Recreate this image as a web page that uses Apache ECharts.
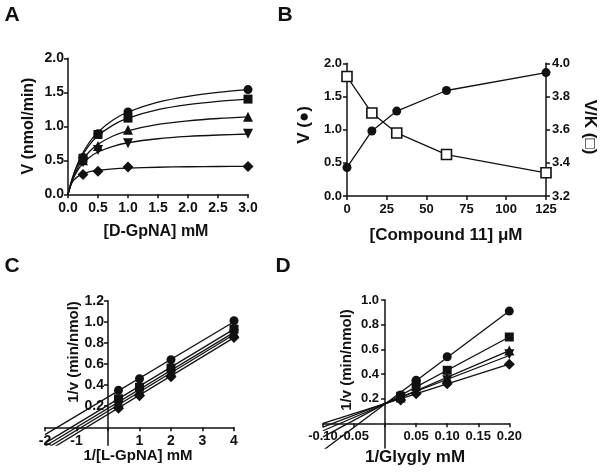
<!DOCTYPE html>
<html><head><meta charset="utf-8">
<script src="https://cdn.jsdelivr.net/npm/echarts@6/dist/echarts.min.js"></script>
<style>html,body{margin:0;padding:0;background:#fff}#c{width:601px;height:473px}</style>
</head><body><div id="c"></div>
<script>
const FONT = '"Liberation Sans", Arial, "DejaVu Sans", sans-serif';
const INK = '#111';

const aX = [0.25, 0.5, 1.0, 3.0];
const aCircle = [0.54, 0.89, 1.21, 1.54];
const aSquare = [0.53, 0.88, 1.12, 1.40];
const aTriUp = [0.50, 0.71, 0.95, 1.14];
const aTriDown = [0.47, 0.65, 0.75, 0.89];
const aDiamond = [0.29, 0.34, 0.40, 0.41];
const aCurveX = [0, 0.05, 0.1, 0.2, 0.35, 0.5, 0.75, 1, 1.5, 2, 2.5, 3];
const aCurveCircle = [0, 0.170, 0.311, 0.530, 0.758, 0.916, 1.093, 1.210, 1.355, 1.441, 1.499, 1.540];
const aCurveSquare = [0, 0.167, 0.303, 0.509, 0.719, 0.862, 1.018, 1.120, 1.244, 1.318, 1.366, 1.400];
const aCurveTriUp = [0, 0.152, 0.272, 0.449, 0.622, 0.736, 0.857, 0.934, 1.027, 1.080, 1.115, 1.139];
const aCurveTriDown = [0, 0.147, 0.255, 0.404, 0.539, 0.622, 0.706, 0.758, 0.817, 0.851, 0.872, 0.887];
const aCurveDiamond = [0, 0.142, 0.212, 0.283, 0.331, 0.354, 0.375, 0.386, 0.398, 0.405, 0.409, 0.411];

// ---- Panel B: V and V/K vs [Compound 11] ----
const bX = [0, 15.625, 31.25, 62.5, 125];
const bV = [0.43, 0.98, 1.28, 1.59, 1.86];
const bVK = [3.92, 3.70, 3.58, 3.45, 3.34];

// ---- Panel C: 1/v vs 1/[L-GpNA] ----
const cX = [0.333, 1, 2, 4];
const cCircle = [0.35, 0.46, 0.64, 1.01];
const cSquare = [0.27, 0.38, 0.56, 0.93];
const cTriUp = [0.24, 0.35, 0.53, 0.90];
const cTriDown = [0.21, 0.33, 0.50, 0.88];
const cDiamond = [0.18, 0.30, 0.48, 0.85];
const cFitX = [-2, 4];
const cFitCircle = [-0.07, 1.00];
const cFitSquare = [-0.15, 0.93];
const cFitTriUp = [-0.18, 0.90];
const cFitTriDown = [-0.21, 0.88];
const cFitDiamond = [-0.24, 0.85];
const cXTicks = [-2, -1, 0, 1, 2, 3, 4];
const cXLabels = [-2, -1, 1, 2, 3, 4];
const cYTicks = [0.2, 0.4, 0.6, 0.8, 1.0, 1.2];

// ---- Panel D: 1/v vs 1/Glygly ----
const dX = [0.025, 0.05, 0.1, 0.2];
const dCircle = [0.23, 0.35, 0.54, 0.91];
const dSquare = [0.22, 0.32, 0.43, 0.70];
const dTriUp = [0.21, 0.30, 0.37, 0.59];
const dTriDown = [0.20, 0.28, 0.35, 0.56];
const dDiamond = [0.19, 0.24, 0.32, 0.48];
const dFitX = [-0.1, 0.2];
const dFitCircle = [-0.22, 0.91];
const dFitSquare = [-0.11, 0.70];
const dFitTriUp = [-0.06, 0.59];
const dFitTriDown = [-0.03, 0.55];
const dFitDiamond = [0.00, 0.48];
const dXTicks = [-0.1, -0.05, 0, 0.05, 0.1, 0.15, 0.2];
const dXLabels = [-0.1, -0.05, 0.05, 0.1, 0.15, 0.2];
const dYTicks = [0.2, 0.4, 0.6, 0.8, 1.0];

const pts = (xs, ys) => xs.map((x, i) => [x, ys[i]]);

function axisBase(fs, fmt, margin) {
  return {
    axisLine: { onZero: false, lineStyle: { color: INK, width: 1.5 } },
    axisTick: { length: 4, lineStyle: { color: INK, width: 1.5 } },
    axisLabel: { color: INK, fontFamily: FONT, fontWeight: 'bold', fontSize: fs, formatter: fmt, margin: margin, showMinLabel: true, showMaxLabel: true },
    splitLine: { show: false }
  };
}
function scat(xi, yi, data, symbol, size, rot) {
  return { type: 'scatter', xAxisIndex: xi, yAxisIndex: yi, data: data, symbol: symbol, symbolSize: size,
    symbolRotate: rot || 0, itemStyle: { color: INK, opacity: 1 }, z: 5, silent: true, animation: false };
}
function ln(xi, yi, data, smooth) {
  return { type: 'line', xAxisIndex: xi, yAxisIndex: yi, data: data, showSymbol: false, symbol: 'none',
    smooth: smooth || false, lineStyle: { color: INK, width: 1.3 }, z: 3, silent: true, animation: false };
}
const f1 = v => v.toFixed(1);
const f2 = v => v.toFixed(2);
const f0 = v => String(Math.round(v));

function custom(a, ticks, labels) { a.axisTick.customValues = ticks; a.axisLabel.customValues = labels; return a; }

const xAxes = [
  Object.assign(axisBase(14, f1, 7), { type: 'value', gridIndex: 0, min: 0, max: 3, interval: 0.5 }),
  Object.assign(axisBase(13, f0, 7), { type: 'value', gridIndex: 1, min: 0, max: 125, interval: 25 }),
  Object.assign(custom(axisBase(14, f0, 7), cXTicks, cXLabels), { type: 'value', gridIndex: 2, min: -2, max: 4, interval: 1, offset: -17.9 }),
  Object.assign(custom(axisBase(13, f2, 7), dXTicks, dXLabels), { type: 'value', gridIndex: 3, min: -0.1, max: 0.2, interval: 0.05, offset: -24.7 })
];
const yAxes = [
  Object.assign(axisBase(14, f1, 4), { type: 'value', gridIndex: 0, min: 0, max: 2, interval: 0.5 }),
  Object.assign(axisBase(13, f1, 5), { type: 'value', gridIndex: 1, min: 0, max: 2, interval: 0.5 }),
  Object.assign(axisBase(13, f1, 6), { type: 'value', gridIndex: 1, min: 3.2, max: 4.0, interval: 0.2, position: 'right' }),
  Object.assign(custom(axisBase(14, f1, 4), cYTicks, cYTicks), { type: 'value', gridIndex: 2, min: -0.17, max: 1.2, offset: -63 }),
  Object.assign(custom(axisBase(13, f1, 6), dYTicks, dYTicks), { type: 'value', gridIndex: 3, min: -0.2, max: 1.0, interval: 0.2, offset: -62.1 })
];

const symbols = [['circle', 9, 0], ['rect', 9, 0], ['triangle', 10, 0], ['triangle', 10, 180], ['diamond', 11, 0]];
const series = [];
// A
[[aCircle, aCurveCircle], [aSquare, aCurveSquare], [aTriUp, aCurveTriUp], [aTriDown, aCurveTriDown], [aDiamond, aCurveDiamond]].forEach((p, i) => {
  series.push(ln(0, 0, pts(aCurveX, p[1]), 0.3));
  series.push(scat(0, 0, pts(aX, p[0]), symbols[i][0], symbols[i][1], symbols[i][2]));
});
// B
series.push({ type: 'line', xAxisIndex: 1, yAxisIndex: 1, data: pts(bX, bV), symbol: 'circle', symbolSize: 9,
  itemStyle: { color: INK }, lineStyle: { color: INK, width: 1.3 }, z: 4, silent: true, animation: false });
series.push({ type: 'line', xAxisIndex: 1, yAxisIndex: 2, data: pts(bX, bVK), symbol: 'rect', symbolSize: 10,
  itemStyle: { color: '#fff', borderColor: INK, borderWidth: 1.6 }, lineStyle: { color: INK, width: 1.3 }, z: 4, silent: true, animation: false });
// C
[[cCircle, cFitCircle], [cSquare, cFitSquare], [cTriUp, cFitTriUp], [cTriDown, cFitTriDown], [cDiamond, cFitDiamond]].forEach((p, i) => {
  series.push(ln(2, 3, pts(cFitX, p[1])));
  series.push(scat(2, 3, pts(cX, p[0]), symbols[i][0], symbols[i][1], symbols[i][2]));
});
// D
[[dCircle, dFitCircle], [dSquare, dFitSquare], [dTriUp, dFitTriUp], [dTriDown, dFitTriDown], [dDiamond, dFitDiamond]].forEach((p, i) => {
  series.push(ln(3, 4, pts(dFitX, p[1])));
  series.push(scat(3, 4, pts(dX, p[0]), symbols[i][0], symbols[i][1], symbols[i][2]));
});

function txt(s, x, y, size, rot) {
  return { type: 'text', x: x, y: y, rotation: rot || 0, silent: true,
    style: { text: s, fill: INK, font: 'bold ' + size + 'px ' + FONT, align: 'center', verticalAlign: 'middle' } };
}
const graphics = [
  txt('A', 12, 15, 21), txt('B', 285, 15, 21), txt('C', 12, 266, 21), txt('D', 283, 266, 21),
  txt('[D-GpNA] mM', 156, 232, 16), txt('V (nmol/min)', 29, 126, 16, Math.PI / 2),
  txt('[Compound 11] \u03bcM', 446, 235, 17), txt('V (\u25cf)', 304, 125, 17, Math.PI / 2),
  txt('V/K (\u25a1)', 590, 127, 17, -Math.PI / 2),
  txt('1/[L-GpNA] mM', 138, 456, 15), txt('1/v (min/nmol)', 74, 352, 15, Math.PI / 2),
  txt('1/Glygly mM', 415, 457, 17), txt('1/v (min/nmol)', 347, 360, 15, Math.PI / 2)
];

const chart = echarts.init(document.getElementById('c'), null, { renderer: 'canvas' });
chart.setOption({
  backgroundColor: '#fff',
  animation: false,
  grid: [
    { left: 68, top: 58.3, width: 180, height: 136 },
    { left: 347, top: 63.3, width: 199, height: 132.7 },
    { left: 45, top: 300.7, width: 189, height: 144.5 },
    { left: 323, top: 300, width: 186.3, height: 148 }
  ],
  xAxis: xAxes,
  yAxis: yAxes,
  series: series,
  graphic: graphics
});
</script></body></html>
